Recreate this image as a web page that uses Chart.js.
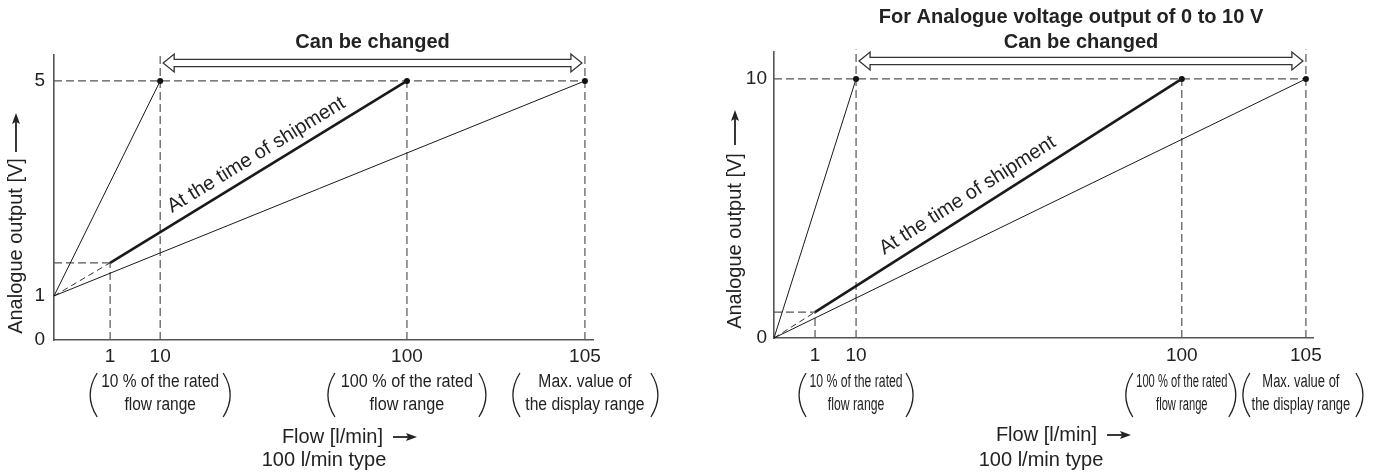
<!DOCTYPE html>
<html>
<head>
<meta charset="utf-8">
<script src="https://cdn.jsdelivr.net/npm/chart.js@4.4.1/dist/chart.umd.min.js"></script>
<style>
  body { margin: 0; background: #fff; }
  #wrap { position: relative; width: 1375px; height: 475px; }
  canvas { position: absolute; top: 0; }
  #left { left: 0; }
  #right { left: 690px; }
</style>
</head>
<body>
<div id="wrap">
  <canvas id="left" width="690" height="475"></canvas>
  <canvas id="right" width="685" height="475"></canvas>
</div>
<script>
// The reference is a schematic: neither axis is drawn to scale, so the
// flows and voltages below are the positions the drawing puts them at.

// flow ticks: 0, 1, 10, 100, 105 l/min
const flowLabels = ['0', '1', '10', '100', '105'];
const leftFlowPos = [0, 11.1, 21.0, 69.8, 105];
const rightFlowPos = [0, 8.1, 16.2, 80.5, 105];

// output ticks
const leftVoltLabels = ['0', '1', '5'];
const leftVoltPos = [0, 0.85, 5];
const rightVoltLabels = ['0', '10'];
const rightVoltPos = [0, 10];

// output at 1 l/min on the "at the time of shipment" line
const leftShipStart = 1.49;
const rightShipStart = 1.0;

const noteTexts = [
  ['10 % of the rated', 'flow range'],
  ['100 % of the rated', 'flow range'],
  ['Max. value of', 'the display range']
];

const FONT = '"Liberation Sans", Arial, Helvetica, sans-serif';
const INK = '#222';
const GUIDE = '#555';

Chart.defaults.font.family = FONT;
Chart.defaults.color = INK;

function seg(a, b) {
  return [{ x: a[0], y: a[1] }, { x: b[0], y: b[1] }];
}

function lineSet(data, width, color, dash) {
  return {
    data: data,
    showLine: true,
    borderColor: color,
    borderWidth: width,
    borderDash: dash || [],
    pointRadius: 0,
    fill: false,
    clip: false
  };
}

// hollow double headed arrow over "Can be changed"
function drawDoubleArrow(ctx, x1, x2, y) {
  const hl = 11, hh = 9, sw = 3.7;
  ctx.save();
  ctx.beginPath();
  ctx.moveTo(x1, y);
  ctx.lineTo(x1 + hl, y - hh);
  ctx.lineTo(x1 + hl, y - sw);
  ctx.lineTo(x2 - hl, y - sw);
  ctx.lineTo(x2 - hl, y - hh);
  ctx.lineTo(x2, y);
  ctx.lineTo(x2 - hl, y + hh);
  ctx.lineTo(x2 - hl, y + sw);
  ctx.lineTo(x1 + hl, y + sw);
  ctx.lineTo(x1 + hl, y + hh);
  ctx.closePath();
  ctx.fillStyle = '#fff';
  ctx.fill();
  ctx.strokeStyle = '#333';
  ctx.lineWidth = 1.3;
  ctx.stroke();
  ctx.restore();
}

// solid arrow, head at (x2, y2)
function drawArrow(ctx, x1, y1, x2, y2) {
  const ang = Math.atan2(y2 - y1, x2 - x1);
  const hl = 11, hw = 4;
  ctx.save();
  ctx.strokeStyle = INK;
  ctx.fillStyle = INK;
  ctx.lineWidth = 1.8;
  ctx.beginPath();
  ctx.moveTo(x1, y1);
  ctx.lineTo(x2 - Math.cos(ang) * hl * 0.8, y2 - Math.sin(ang) * hl * 0.8);
  ctx.stroke();
  ctx.translate(x2, y2);
  ctx.rotate(ang);
  ctx.beginPath();
  ctx.moveTo(0, 0);
  ctx.lineTo(-hl, -hw);
  ctx.lineTo(-hl * 0.8, 0);
  ctx.lineTo(-hl, hw);
  ctx.closePath();
  ctx.fill();
  ctx.restore();
}

// bracket round a note; x is where its ends sit, dir -1 = "(", +1 = ")"
function drawParen(ctx, x, top, bottom, dir) {
  const mid = (top + bottom) / 2;
  ctx.save();
  ctx.strokeStyle = INK;
  ctx.lineWidth = 1.3;
  ctx.beginPath();
  ctx.moveTo(x, top);
  ctx.quadraticCurveTo(x + dir * 14, mid, x, bottom);
  ctx.stroke();
  ctx.restore();
}

function buildPanel(id, p) {
  const f = p.flowPos;
  const full = p.voltPos[p.voltPos.length - 1];
  const off = p.offset;
  const ship = p.shipStart;

  const datasets = [
    // at the time of shipment
    lineSet(seg([f[1], ship], [f[3], full]), 2.6, '#1a1a1a'),
    // adjustable span examples
    lineSet(seg([f[0], off], [f[2], full]), 1, '#1a1a1a'),
    lineSet(seg([f[0], off], [f[4], full]), 1, '#1a1a1a'),
    lineSet(seg([f[0], off], [f[1], ship]), 1, '#333', [6, 4]),
    {
      data: [{ x: f[2], y: full }, { x: f[3], y: full }, { x: f[4], y: full }],
      showLine: false,
      pointRadius: 3,
      pointBackgroundColor: '#111',
      pointBorderWidth: 0,
      clip: false
    },
    // guide lines
    lineSet(seg([f[0], full], [f[4], full]), 1.2, GUIDE, [8, 4]),
    lineSet(seg([f[0], ship], [f[1], ship]), 1.2, GUIDE, [8, 4]),
    lineSet(seg([f[1], 0], [f[1], ship]), 1.2, GUIDE, [8, 4]),
    lineSet(seg([f[2], 0], [f[2], p.yMax + p.guideOver]), 1.2, GUIDE, [8, 4]),
    lineSet(seg([f[3], 0], [f[3], full]), 1.2, GUIDE, [8, 4]),
    lineSet(seg([f[4], 0], [f[4], p.yMax + p.guideOver]), 1.2, GUIDE, [8, 4])
  ];

  const extras = {
    id: 'extras',
    afterDraw(chart) {
      const ctx = chart.ctx;
      const xs = chart.scales.x, ys = chart.scales.y;
      const px = v => xs.getPixelForValue(v);
      const py = v => ys.getPixelForValue(v);

      ctx.save();
      ctx.fillStyle = INK;
      ctx.textAlign = 'center';
      ctx.textBaseline = 'middle';

      // title + "Can be changed"
      if (p.title) {
        ctx.font = 'bold 20px ' + FONT;
        ctx.fillText(p.title, p.titleX, p.titleY);
      }
      const a1 = px(f[2]) + 3, a2 = px(f[4]) - 3;
      drawDoubleArrow(ctx, a1, a2, p.arrowY);
      ctx.fillStyle = INK;
      ctx.font = 'bold 20px ' + FONT;
      ctx.fillText('Can be changed', (a1 + a2) / 2, p.canY);

      // label along the shipment line
      const sx1 = px(f[1]), sy1 = py(ship), sx2 = px(f[3]), sy2 = py(full);
      const ang = Math.atan2(sy2 - sy1, sx2 - sx1);
      const cx = sx1 + (sx2 - sx1) * p.shipFrac;
      const cy = sy1 + (sy2 - sy1) * p.shipFrac;
      ctx.save();
      ctx.translate(cx, cy);
      ctx.rotate(ang);
      ctx.font = '20px ' + FONT;
      ctx.textBaseline = 'alphabetic';
      ctx.fillText('At the time of shipment', 0, -p.shipOff);
      ctx.restore();

      // y axis title with arrow
      ctx.save();
      ctx.translate(p.yTitleX, p.yTitleY);
      ctx.rotate(-Math.PI / 2);
      ctx.font = '20px ' + FONT;
      ctx.fillText('Analogue output [V]', 0, 0);
      ctx.restore();
      drawArrow(ctx, p.yTitleX, p.yArrow[0], p.yTitleX, p.yArrow[1]);

      // notes under the flow ticks
      ctx.font = '18px ' + FONT;
      noteTexts.forEach((lines, i) => {
        const nx = px(f[i + 2]) + p.noteShift[i];
        lines.forEach((t, j) => {
          ctx.save();
          ctx.translate(nx, p.noteY[j]);
          ctx.scale(p.noteScale[i], 1);
          ctx.fillText(t, 0, 0);
          ctx.restore();
        });
        drawParen(ctx, nx - p.parenHalf[i][0], 373, 417, -1);
        drawParen(ctx, nx + p.parenHalf[i][1], 373, 417, 1);
      });

      // x axis title
      ctx.font = '20px ' + FONT;
      ctx.textAlign = 'right';
      ctx.fillText('Flow [l/min]', p.flowRight, p.flowY);
      drawArrow(ctx, p.flowRight + 10, p.flowY, p.flowRight + 34, p.flowY);
      ctx.textAlign = 'center';
      ctx.fillText('100 l/min type', p.typeX, p.typeY);
      ctx.restore();
    }
  };

  const tickFont = { size: 19 };

  return new Chart(document.getElementById(id), {
    type: 'scatter',
    data: { datasets: datasets },
    options: {
      responsive: false,
      animation: false,
      devicePixelRatio: 1,
      layout: { padding: p.padding },
      plugins: { legend: { display: false }, tooltip: { enabled: false } },
      scales: {
        x: {
          type: 'linear',
          min: 0,
          max: p.xMax,
          grid: { display: false, drawTicks: false },
          border: { display: true, color: GUIDE, width: 1.6 },
          afterBuildTicks: s => { s.ticks = f.slice(1).map(v => ({ value: v })); },
          afterFit: s => { s.height = p.xHeight; },
          ticks: {
            autoSkip: false,
            maxRotation: 0,
            padding: p.xPad,
            color: INK,
            font: tickFont,
            callback: (v, i) => flowLabels[i + 1]
          }
        },
        y: {
          type: 'linear',
          min: 0,
          max: p.yMax,
          grid: { display: false, drawTicks: false },
          border: { display: true, color: GUIDE, width: 1.6 },
          afterBuildTicks: s => { s.ticks = p.voltPos.map(v => ({ value: v })); },
          afterFit: s => { s.width = p.yWidth; },
          ticks: {
            autoSkip: false,
            padding: p.yPad,
            color: INK,
            font: tickFont,
            callback: (v, i) => p.voltLabels[i]
          }
        }
      }
    },
    plugins: [extras]
  });
}

buildPanel('left', {
  flowPos: leftFlowPos,
  voltPos: leftVoltPos,
  voltLabels: leftVoltLabels,
  offset: leftVoltPos[1],
  shipStart: leftShipStart,
  xMax: 106.6,
  yMax: 5.5,
  guideOver: 0.04,
  padding: { top: 55, right: 97, left: 0, bottom: 0 },
  yWidth: 54,
  xHeight: 135,
  xPad: 5,
  yPad: 9,
  arrowY: 63,
  canY: 42,
  shipFrac: 0.52,
  shipOff: 10,
  yTitleX: 16,
  yTitleY: 246,
  yArrow: [152, 113],
  noteShift: [0, 0, 0],
  noteScale: [0.86, 0.9, 0.87],
  noteY: [382, 405],
  parenHalf: [[63, 63], [72, 72], [65, 66]],
  flowRight: 383,
  flowY: 437,
  typeX: 324,
  typeY: 460
});

buildPanel('right', {
  flowPos: rightFlowPos,
  voltPos: rightVoltPos,
  voltLabels: rightVoltLabels,
  offset: rightVoltPos[0],
  shipStart: rightShipStart,
  xMax: 106.4,
  yMax: 11.04,
  guideOver: 0.1,
  padding: { top: 52, right: 62, left: 0, bottom: 0 },
  yWidth: 84,
  xHeight: 137,
  xPad: 6,
  yPad: 7,
  title: 'For Analogue voltage output of 0 to 10 V',
  titleX: 381,
  titleY: 17,
  arrowY: 61,
  canY: 42,
  shipFrac: 0.44,
  shipOff: 11,
  yTitleX: 45,
  yTitleY: 241,
  yArrow: [145, 110],
  noteShift: [0, 0, -5],
  noteScale: [0.68, 0.62, 0.72],
  noteY: [382, 405],
  parenHalf: [[50, 50], [49, 47], [51, 55]],
  flowRight: 407,
  flowY: 435,
  typeX: 351,
  typeY: 460
});
</script>
</body>
</html>
